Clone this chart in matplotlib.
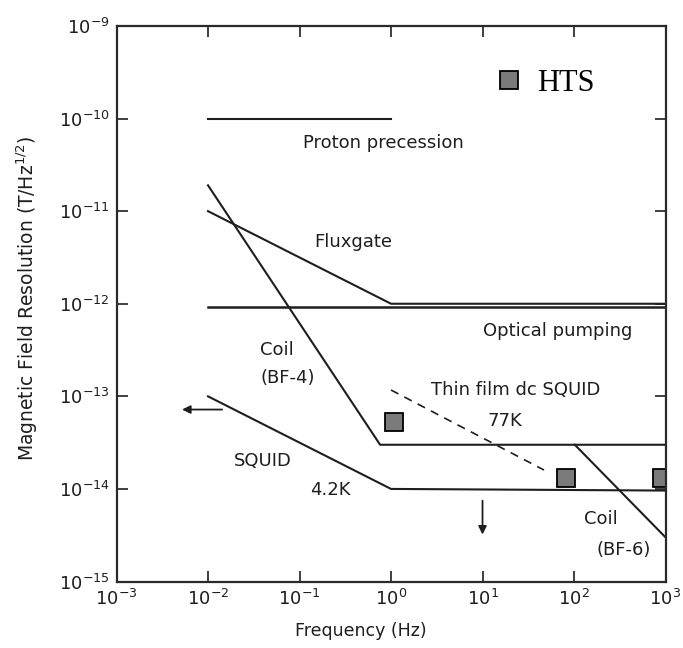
import matplotlib
matplotlib.use('Agg')
import matplotlib.pyplot as plt
from matplotlib.ticker import LogLocator, NullLocator

# sensitivity curves, frequency (Hz) vs field resolution (T/Hz^1/2)
proton_f = [1e-2, 1e0]
proton_b = [1e-10, 1e-10]
fluxgate_f = [1e-2, 1e0, 1e3]
fluxgate_b = [1e-11, 1e-12, 1e-12]
optical_f = [1e-2, 1e3]
optical_b = [9.3e-13, 9.3e-13]
coil4_f = [1e-2, 0.76, 1e3]
coil4_b = [1.9e-11, 3.0e-14, 3.0e-14]
squid42_f = [1e-2, 1e0, 1e3]
squid42_b = [1e-13, 1e-14, 9.6e-15]
thinfilm_f = [1e0, 47]
thinfilm_b = [1.17e-13, 1.6e-14]
coil6_f = [102, 1e3]
coil6_b = [3.0e-14, 3.0e-15]
hts_f = [1.09, 81, 910]
hts_b = [5.3e-14, 1.3e-14, 1.3e-14]

# labels and where they sit (data coords)
labels = ['Proton precession', 'Fluxgate', 'Optical pumping', 'Coil', '(BF-4)',
          'Thin film dc SQUID', '77K', 'SQUID', '4.2K', 'Coil', '(BF-6)']
label_f = [0.82, 0.39, 66, 0.056, 0.074, 23.3, 17.7, 0.040, 0.215, 196, 352]
label_b = [5.5e-11, 4.7e-12, 5.1e-13, 3.2e-13, 1.57e-13, 1.16e-13, 5.4e-14,
           2.0e-14, 9.7e-15, 4.7e-15, 2.19e-15]

ink = '#1e1e1e'
lw = 1.5

fig = plt.figure(figsize=(6.83, 6.48), dpi=100)
ax = fig.add_axes([0.1706, 0.1026, 0.8038, 0.8573])
ax.set_xscale('log')
ax.set_yscale('log')
ax.set_xlim(1e-3, 1e3)
ax.set_ylim(1e-15, 1e-9)

ax.plot(proton_f, proton_b, color=ink, lw=lw)
ax.plot(fluxgate_f, fluxgate_b, color=ink, lw=lw)
ax.plot(optical_f, optical_b, color=ink, lw=lw + 0.3)
ax.plot(coil4_f, coil4_b, color=ink, lw=lw)
ax.plot(squid42_f, squid42_b, color=ink, lw=lw)
ax.plot(thinfilm_f, thinfilm_b, color=ink, lw=1.2, dashes=(5, 4))
ax.plot(coil6_f, coil6_b, color=ink, lw=lw)
hts, = ax.plot(hts_f, hts_b, ls='none', marker='s', ms=13.5, mfc='#7a7a7a',
               mec='black', mew=1.3, label='HTS')

for txt, f, b in zip(labels, label_f, label_b):
    ax.text(f, b, txt, ha='center', va='center', fontsize=13, color=ink)

# arrows
ax.annotate('', xy=(0.00485, 7.2e-14), xytext=(0.0153, 7.2e-14),
            arrowprops=dict(arrowstyle='-|>', color=ink, lw=1.3, mutation_scale=12))
ax.annotate('', xy=(10, 3.0e-15), xytext=(10, 8e-15),
            arrowprops=dict(arrowstyle='-|>', color=ink, lw=1.3, mutation_scale=12))

leg = ax.legend(handles=[hts], loc='center left', bbox_to_anchor=(0.6865, 0.897),
                frameon=False, borderpad=0, borderaxespad=0, handlelength=1.0,
                handletextpad=0.42, prop={'family': 'Liberation Serif', 'size': 22})

ax.xaxis.set_major_locator(LogLocator(base=10, numticks=10))
ax.yaxis.set_major_locator(LogLocator(base=10, numticks=10))
ax.xaxis.set_minor_locator(NullLocator())
ax.yaxis.set_minor_locator(NullLocator())
ax.tick_params(which='major', direction='in', length=8, width=1.2, top=True, right=True,
               labelsize=13, colors=ink, pad=5)
for s in ax.spines.values():
    s.set_linewidth(1.6)
    s.set_color('#2a2a2a')

ax.set_xlabel('Frequency (Hz)', fontsize=12.5, color=ink)
ax.set_ylabel(r'Magnetic Field Resolution (T/Hz$^{1/2}$)', fontsize=13.5, color=ink)
ax.xaxis.set_label_coords(0.445, -0.073)
ax.yaxis.set_label_coords(-0.14, 0.51)

fig.savefig('out.png', dpi=100)
